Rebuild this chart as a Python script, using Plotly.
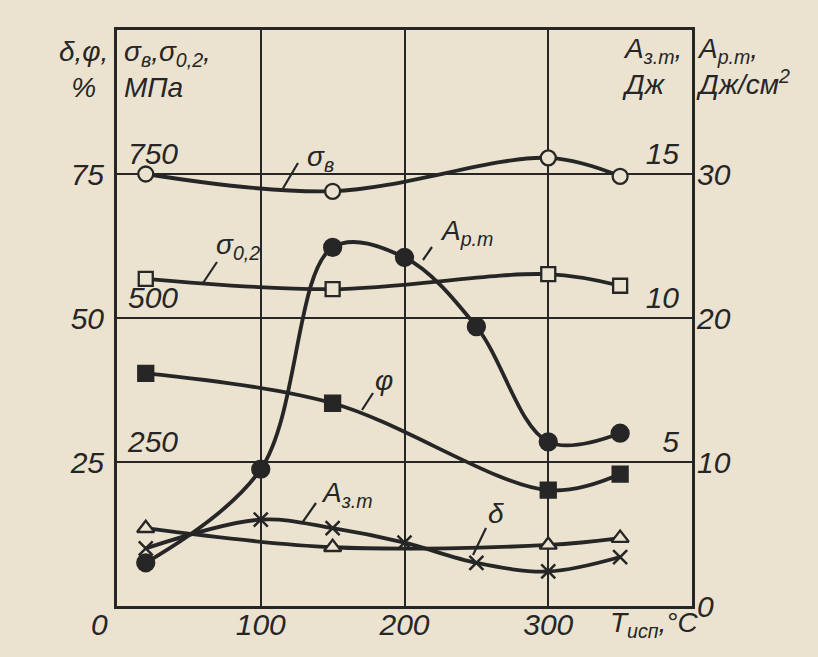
import plotly.graph_objects as go

# ---------------- data ----------------
temp_sigma_b = [20, 150, 300, 350]
sigma_b = [750, 720, 778, 746]              # МПа

temp_sigma_02 = [20, 150, 300, 350]
sigma_02 = [568, 550, 576, 556]             # МПа

temp_a_rt = [20, 100, 150, 200, 250, 300, 350]
a_rt = [3.0, 9.5, 24.9, 24.2, 19.4, 11.4, 12.0]   # Дж/см2

temp_phi = [20, 150, 300, 350]
phi = [40.4, 35.2, 20.1, 22.9]              # %

temp_delta = [20, 150, 300, 350]
delta = [13.5, 10.2, 10.6, 11.8]            # %

temp_a_zt = [20, 100, 150, 200, 250, 300, 350]
a_zt = [2.0, 3.0, 2.7, 2.2, 1.5, 1.2, 1.7]  # Дж

x_ticks = [100, 200, 300]
pct_ticks = [25, 50, 75]
mpa_ticks = [250, 500, 750]
azt_ticks = [5, 10, 15]
art_ticks = [0, 10, 20, 30]

# ---------------- style ----------------
BG = "#ebe3d0"
INK = "#262626"
FONT = "Liberation Sans Narrow, Liberation Sans, Arial Narrow, sans-serif"
LW = 3.8

L, R, T, B = 117, 692, 30, 606
W, H = 818, 657


def px(xp, yp):
    return (xp - L) / (R - L), (B - yp) / (B - T)


fig = go.Figure()


def add(xs, ys, yaxis, symbol, size, filled, lw=2.3):
    fig.add_trace(go.Scatter(
        x=xs, y=ys, yaxis=yaxis, mode="lines+markers",
        line=dict(color=INK, width=LW, shape="spline", smoothing=1.0),
        marker=dict(symbol=symbol, size=size,
                    color=INK if filled else BG,
                    line=dict(color=INK, width=lw)),
        showlegend=False, cliponaxis=False, hoverinfo="skip"))


add(temp_sigma_b, sigma_b, "y2", "circle", 15, False)
add(temp_sigma_02, sigma_02, "y2", "square", 14, False)
add(temp_phi, phi, "y", "square", 15, True)
add(temp_delta, delta, "y", "triangle-up", 15, False)
add(temp_a_zt, a_zt, "y3", "x-thin", 14, False, lw=2.5)
add(temp_a_rt, a_rt, "y4", "circle", 17, True)

tf = dict(family=FONT, size=30, color=INK, style="italic")

fig.update_layout(
    width=W, height=H,
    margin=dict(l=L, r=W - R, t=T, b=H - B, autoexpand=False),
    paper_bgcolor=BG, plot_bgcolor=BG,
    xaxis=dict(range=[0, 400], tickvals=x_ticks, ticktext=[str(v) for v in x_ticks],
               showgrid=True, gridcolor=INK, gridwidth=2,
               showline=True, linecolor=INK, linewidth=3, mirror=True,
               zeroline=False, ticks="", tickfont=tf, ticklabelstandoff=-10),
    yaxis=dict(range=[0, 100], tickvals=pct_ticks, ticktext=[str(v) for v in pct_ticks],
               showgrid=True, gridcolor=INK, gridwidth=2,
               showline=True, linecolor=INK, linewidth=3, mirror=True,
               zeroline=False, ticks="", tickfont=tf, ticklabelstandoff=4),
    yaxis2=dict(range=[0, 1000], overlaying="y", side="left", anchor="x",
                tickvals=mpa_ticks, ticktext=[str(v) for v in mpa_ticks],
                ticklabelposition="inside top", showgrid=False, zeroline=False,
                showline=False, ticks="", tickfont=tf, ticklabelstandoff=8),
    yaxis3=dict(range=[0, 20], overlaying="y", side="right", anchor="x",
                tickvals=azt_ticks, ticktext=[str(v) for v in azt_ticks],
                ticklabelposition="inside top", showgrid=False, zeroline=False,
                showline=False, ticks="", tickfont=tf, ticklabelstandoff=10),
    yaxis4=dict(range=[0, 40], overlaying="y", side="right", anchor="x",
                tickvals=art_ticks, ticktext=[str(v) for v in art_ticks],
                showgrid=False, zeroline=False,
                showline=False, ticks="", tickfont=tf, ticklabelstandoff=4),
)

af = dict(family=FONT, size=28, color=INK, style="italic")


def note(text, xp, yp, xanchor="center", yanchor="middle", align="center", size=28):
    x, y = px(xp, yp)
    fig.add_annotation(text=text, x=x, y=y, xref="paper", yref="paper",
                       xanchor=xanchor, yanchor=yanchor, align=align,
                       showarrow=False, font=dict(af, size=size))


def leader(x0, y0, x1, y1):
    a, b = px(x0, y0)
    c, d = px(x1, y1)
    fig.add_shape(type="line", xref="paper", yref="paper", x0=a, y0=b, x1=c, y1=d,
                  line=dict(color=INK, width=2.2))


# axis titles
note("δ,φ,<br>%", 83, 70, size=28)
note("σ<sub>в</sub>,σ<sub>0,2</sub>,<br>МПа", 122, 70, xanchor="left", align="left", size=28)
note("A<sub>з.т</sub>,<br>Дж", 620, 66, xanchor="left", align="left", size=28)
note("A<sub>р.т</sub>,<br>Дж/см<sup>2</sup>", 694, 66, xanchor="left", align="left", size=28)
note("0", 99, 624, size=30)
note("T<sub>исп</sub>,°C", 608, 624, xanchor="left", size=28)

# curve labels
note("σ<sub>в</sub>", 320, 158)
note("σ<sub>0,2</sub>", 238, 246)
note("A<sub>р.т</sub>", 466, 232)
note("φ", 384, 380)
note("A<sub>з.т</sub>", 347, 494)
note("δ", 496, 513)

leader(298, 163, 282, 190)
leader(217, 262, 203, 283)
leader(432, 247, 423, 260)
leader(373, 393, 362, 410)
leader(316, 503, 302, 523)
leader(486, 528, 473, 555)

fig.write_html(
    "out.html",
    config={"displayModeBar": False, "staticPlot": True},
    post_script="document.body.style.margin='0px';document.body.style.background='" + BG + "';",
)
